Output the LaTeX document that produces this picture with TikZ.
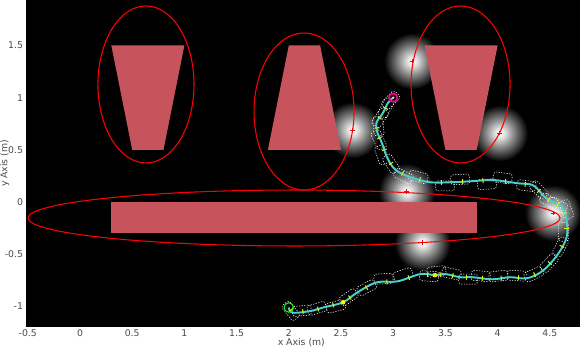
\documentclass[tikz,border=0pt]{standalone}
\usepackage{fontspec}
\setmainfont{DejaVu Sans}
\usetikzlibrary{calc}

\pgfdeclareradialshading{haloshade}{\pgfpoint{0bp}{0bp}}{color(0bp)=(white); color(4bp)=(white!90!black); color(12bp)=(white!55!black); color(25bp)=(black); color(50bp)=(black)}

\begin{document}
\begin{tikzpicture}[x=2.088cm,y=2.088cm,font=\fontsize{5.3}{6}\selectfont]
    \tikzstyle{obstacle}=[fill={rgb,255:red,199;green,83;blue,93}]
    \tikzstyle{bound}=[draw=red, line width=0.6pt]
    \tikzstyle{halo}=[shading=haloshade]
    \tikzstyle{hit}=[draw=red, line width=0.4pt]
    \tikzstyle{footprint}=[draw=white, line width=0.3pt, dash pattern=on 0.7pt off 0.8pt,
        rounded corners=1.5pt, minimum width=0.38cm, minimum height=0.2cm, inner sep=0pt]
    \tikzstyle{tick}=[draw={rgb,255:red,235;green,235;blue,0}, line width=0.6pt]
    \tikzstyle{track}=[draw={rgb,255:red,72;green,209;blue,204}, line width=1.1pt]
    \tikzstyle{annot}=[text=black!70, inner sep=1.5pt]
    \pgfmathsetseed{7}
    \def\trackpts{2.04/-1.06, 2.23/-1.04, 2.33/-1.01, 2.52/-0.96, 2.65/-0.87, 2.84/-0.77,
        3.04/-0.76, 3.26/-0.69, 3.40/-0.70, 3.50/-0.69, 3.64/-0.72, 3.76/-0.72, 3.95/-0.74,
        4.12/-0.72, 4.28/-0.73, 4.43/-0.66, 4.57/-0.51, 4.66/-0.34, 4.66/-0.17, 4.62/-0.05,
        4.53/0.00, 4.45/0.05, 4.34/0.16, 4.19/0.18, 3.96/0.21, 3.76/0.20, 3.57/0.19,
        3.35/0.19, 3.16/0.24, 3.02/0.31, 2.94/0.43, 2.89/0.57, 2.85/0.66, 2.84/0.76,
        2.90/0.85, 2.95/0.95, 3.00/1.00}

    % Frame and plot area
    \useasboundingbox (-0.766,-1.398) rectangle (4.789,1.935);
    \fill[white] (-0.766,-1.398) rectangle (4.789,1.935);
    \fill[black] (-0.517,-1.197) rectangle (4.789,1.935);

    % Draw the sensor halos
    \foreach \x / \y in {3.18/1.35, 2.61/0.69, 4.02/0.66, 3.13/0.10, 3.28/-0.39, 4.53/-0.105}
        \shade[halo] (\x,\y) circle (0.27);

    % Draw the obstacles
    \fill[obstacle] (0.3,1.5) -- (1.0,1.5) -- (0.8,0.5) -- (0.5,0.5) -- cycle;
    \fill[obstacle] (2.0,1.5) -- (2.3,1.5) -- (2.5,0.5) -- (1.8,0.5) -- cycle;
    \fill[obstacle] (3.3,1.5) -- (4.0,1.5) -- (3.8,0.5) -- (3.5,0.5) -- cycle;
    \fill[obstacle] (0.3,-0.3) rectangle (3.8,0.0);

    % Bounding ellipses
    \draw[bound] (0.632,1.126) ellipse (0.46 and 0.752);
    \draw[bound] (2.146,0.867) ellipse (0.479 and 0.752);
    \draw[bound] (3.645,1.126) ellipse (0.474 and 0.752);
    \draw[bound] (2.05,-0.153) ellipse (2.548 and 0.268);

    % Mark the detected points
    \foreach \x / \y in {3.18/1.35, 2.61/0.69, 4.02/0.66, 3.13/0.10, 3.28/-0.39, 4.53/-0.105}
        \draw[hit] (\x,\y) +(-1.3pt,0) -- +(1.3pt,0) +(0,-1.3pt) -- +(0,1.3pt);

    % Footprints along the track
    \foreach \x / \y [remember=\x as \lx (initially 2.00), remember=\y as \ly (initially -1.01)] in \trackpts {
        \pgfmathsetmacro\ang{atan2(\y-\ly,\x-\lx)}
        \pgfmathsetmacro\jit{2.6*rand}
        \node[footprint, rotate=\ang, yshift=\jit pt, xshift=-\jit pt] at ({(\x+\lx)/2},{(\y+\ly)/2}) {};
    }

    % Draw the robot track
    \draw[track] plot[smooth, tension=0.6] coordinates {(2.00,-1.01) (2.04,-1.06) (2.23,-1.04)
        (2.33,-1.01) (2.52,-0.96) (2.65,-0.87) (2.84,-0.77) (3.04,-0.76) (3.26,-0.69)
        (3.40,-0.70) (3.50,-0.69) (3.64,-0.72) (3.76,-0.72) (3.95,-0.74) (4.12,-0.72)
        (4.28,-0.73) (4.43,-0.66) (4.57,-0.51) (4.66,-0.34) (4.66,-0.17) (4.62,-0.05)
        (4.53,0.00) (4.45,0.05) (4.34,0.16) (4.19,0.18) (3.96,0.21) (3.76,0.20) (3.57,0.19)
        (3.35,0.19) (3.16,0.24) (3.02,0.31) (2.94,0.43) (2.89,0.57) (2.85,0.66)
        (2.84,0.76) (2.90,0.85) (2.95,0.95) (3.00,1.00)};

    % Ticks across the track
    \foreach \x / \y [remember=\x as \lx (initially 2.00), remember=\y as \ly (initially -1.01)] in \trackpts {
        \pgfmathsetmacro\ang{atan2(\y-\ly,\x-\lx)}
        \draw[tick] ({(\x+\lx)/2},{(\y+\ly)/2}) ++(\ang+90:1.4pt) -- ++(\ang-90:2.8pt);
    }

    % Start, goal and waypoints
    \coordinate (start) at (2.00,-1.01);
    \coordinate (goal) at (3.00,1.00);
    \draw[green, line width=0.6pt] (start) circle (0.045);
    \draw[magenta, line width=1pt] (goal) circle (0.04);
    \fill[yellow] (goal) circle (0.012);
    \foreach \name / \x / \y in {wa/2.52/-0.96, wb/3.40/-0.70} {
        \coordinate (\name) at (\x,\y);
        \fill[yellow] (\name) circle (0.022);
    }

    % Annotate the axes
    \foreach \v in {-0.5,0,0.5,1,1.5,2,2.5,3,3.5,4,4.5}
        \node[annot, anchor=north] (xl-\v) at (\v,-1.197) {\v};
    \foreach \v in {-1,-0.5,0,0.5,1,1.5}
        \node[annot, anchor=east] (yl-\v) at (-0.517,\v) {\v};
    \node[annot] (xt) at (2.12,-1.35) {x Axis (m)};
    \node[annot, rotate=90] (yt) at (-0.72,0.37) {y Axis (m)};
\end{tikzpicture}
\end{document}
